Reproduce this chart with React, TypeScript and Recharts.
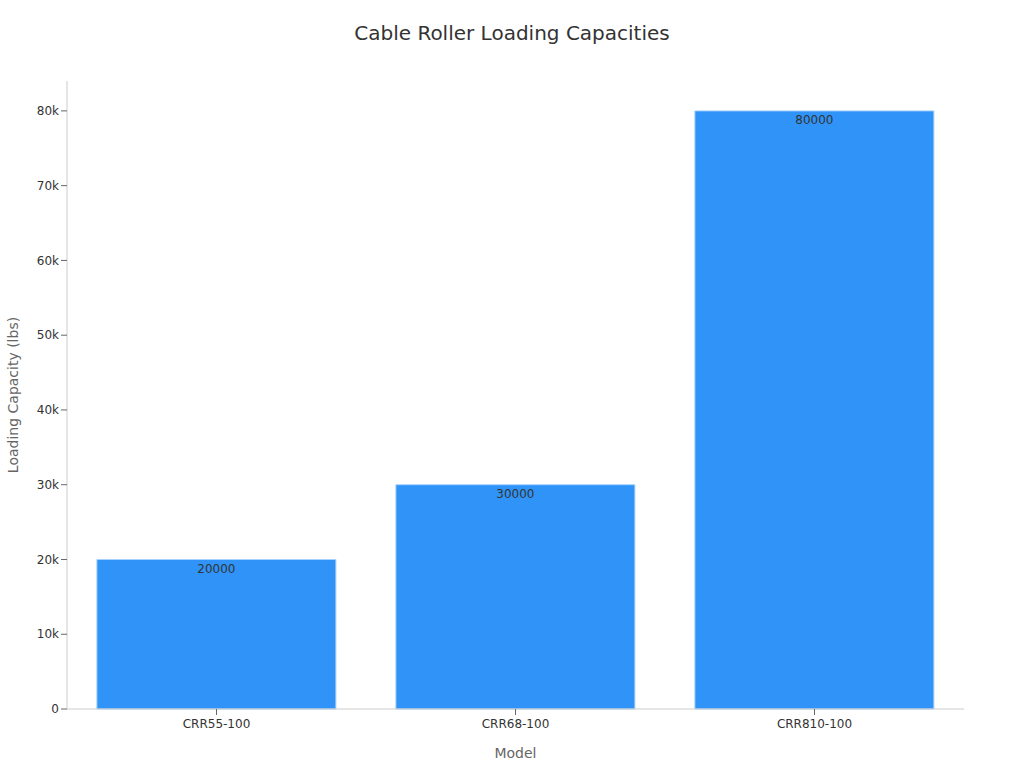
import React from 'react';
import { BarChart, Bar, XAxis, YAxis, LabelList } from 'recharts';

const models = ['CRR55-100', 'CRR68-100', 'CRR810-100'];
const capacities = [20000, 30000, 80000];
const yTicks = [0, 10000, 20000, 30000, 40000, 50000, 60000, 70000, 80000];

const data = models.map((m, i) => ({ model: m, capacity: capacities[i] }));

const FONT = '"DejaVu Sans", sans-serif';

export default function App() {
  return (
    <div style={{ position: 'absolute', left: 0, top: 0, width: 1024, height: 768, background: '#fff', fontFamily: FONT }}>
      <div
        style={{
          position: 'absolute',
          left: 0,
          top: 20,
          width: 1024,
          textAlign: 'center',
          fontSize: 20,
          lineHeight: '26px',
          color: '#333',
          fontFamily: FONT,
        }}
      >
        Cable Roller Loading Capacities
      </div>
      <BarChart
        width={1024}
        height={768}
        data={data}
        margin={{ top: 81, right: 60, bottom: 0, left: 0 }}
        barCategoryGap="10%"
        style={{ fontFamily: FONT }}
      >
        <XAxis
          dataKey="model"
          height={59}
          tickMargin={4}
          tick={{ fill: '#333', fontSize: 12 }}
          axisLine={{ stroke: '#ccc' }}
          tickLine={{ stroke: '#666' }}
          label={{ value: 'Model', position: 'insideBottom', offset: 10, fill: '#666', fontSize: 14 }}
        />
        <YAxis
          width={67}
          domain={[0, 84000]}
          ticks={yTicks}
          interval={0}
          tickFormatter={(v: number) => (v === 0 ? '0' : `${v / 1000}k`)}
          tick={{ fill: '#333', fontSize: 12 }}
          axisLine={{ stroke: '#ccc' }}
          tickLine={{ stroke: '#666' }}
          label={{
            value: 'Loading Capacity (lbs)',
            angle: -90,
            position: 'insideLeft',
            offset: 13,
            fill: '#666',
            fontSize: 14,
            style: { textAnchor: 'middle' },
          }}
        />
        <Bar dataKey="capacity" fill="#2f93f8" stroke="#a9d2fb" strokeWidth={1} isAnimationActive={false}>
          <LabelList dataKey="capacity" position="insideTop" offset={5} fill="#333" fontSize={12} />
        </Bar>
      </BarChart>
    </div>
  );
}
